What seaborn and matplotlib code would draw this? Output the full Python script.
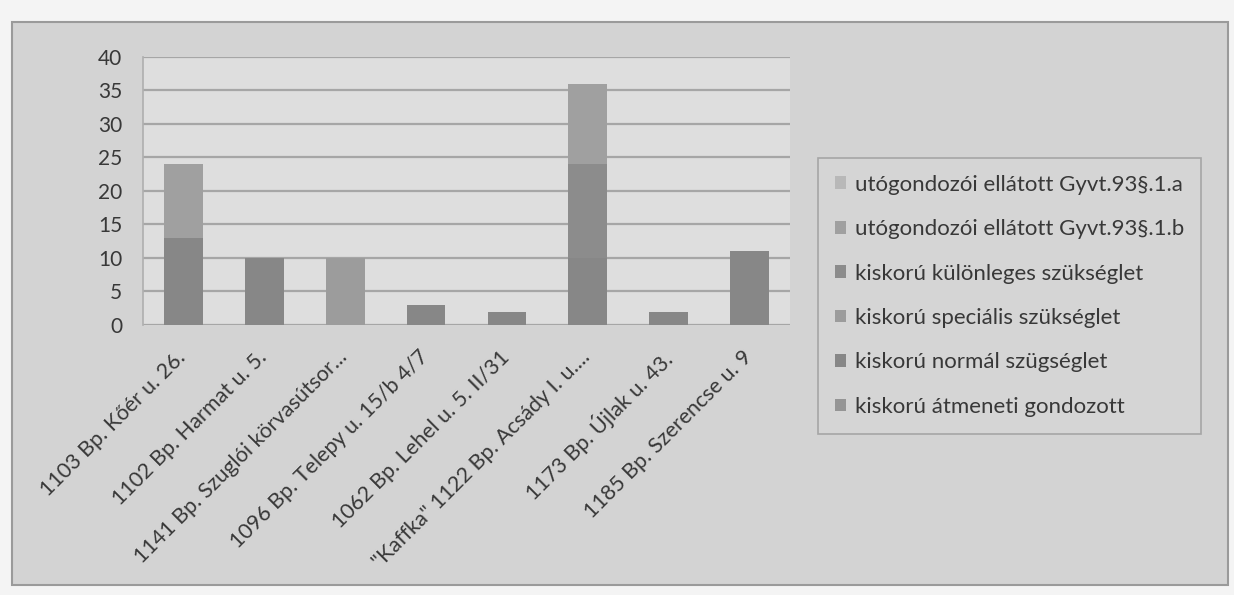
import numpy as np
import pandas as pd
import seaborn as sns
import matplotlib.pyplot as plt
import matplotlib.transforms as mtransforms
from matplotlib.patches import Rectangle

# addresses on the x axis
addresses = [
    "1103 Bp. Kőér u. 26.",
    "1102 Bp. Harmat u. 5.",
    "1141 Bp. Szuglói körvasútsor...",
    "1096 Bp. Telepy u. 15/b 4/7",
    "1062 Bp. Lehel u. 5. II/31",
    "\"Kaffka\" 1122 Bp. Acsády I. u....",
    "1173 Bp. Újlak u. 43.",
    "1185 Bp. Szerencse u. 9",
]

# series, bottom of the stack first
series_names = [
    "kiskorú átmeneti gondozott",
    "kiskorú normál szügséglet",
    "kiskorú speciális szükséglet",
    "kiskorú különleges szükséglet",
    "utógondozói ellátott Gyvt.93§.1.b",
    "utógondozói ellátott Gyvt.93§.1.a",
]
atmeneti = [0, 0, 0, 0, 0, 0, 0, 0]
normal = [13, 10, 0, 3, 2, 10, 2, 11]
specialis = [0, 0, 10, 0, 0, 0, 0, 0]
kulonleges = [0, 0, 0, 0, 0, 14, 0, 0]
uto_b = [11, 0, 0, 0, 0, 12, 0, 0]
uto_a = [0, 0, 0, 0, 0, 0, 0, 0]

series_values = [atmeneti, normal, specialis, kulonleges, uto_b, uto_a]
colors = ["#959595", "#878787", "#9c9c9c", "#8c8c8c", "#a0a0a0", "#b8b8b8"]

TEXT = "#383838"

sns.set_theme(style="white")
plt.rcParams["font.family"] = ["Lato", "DejaVu Sans"]

fig = plt.figure(figsize=(12.34, 5.95), dpi=100)
fig.patch.set_facecolor("#f4f4f4")
# chart frame, kept behind the axes
frame = Rectangle((12 / 1234, 1 - 585 / 595), 1216 / 1234, 563 / 595,
                  transform=fig.transFigure, facecolor="#d3d3d3",
                  edgecolor="#9a9a9a", linewidth=1.5, zorder=-10)
fig.add_artist(frame)

ax = fig.add_axes([143 / 1234, 1 - 325 / 595, 647 / 1234, 268 / 595])
ax.set_facecolor("#dedede")

# stacked bars: draw cumulative totals from top down
cum = np.cumsum(np.array(series_values), axis=0)
for i in range(len(series_names) - 1, -1, -1):
    df = pd.DataFrame({"addr": addresses, "val": cum[i]})
    sns.barplot(data=df, x="addr", y="val", color=colors[i], width=0.48,
                saturation=1, linewidth=0, edgecolor="none", ax=ax, zorder=3)

ax.set_ylim(0, 40)
ax.set_xlim(-0.5, len(addresses) - 0.5)
ax.set_yticks(range(0, 41, 5))
ax.yaxis.grid(True, color="#a6a6a6", linewidth=1.6, zorder=0)
ax.set_axisbelow(True)
for s in ["top", "right", "bottom"]:
    ax.spines[s].set_visible(False)
ax.spines["left"].set_color("#b0b0b0")
ax.set_xlabel("")
ax.set_ylabel("")
ax.tick_params(axis="y", labelsize=15, labelcolor=TEXT, pad=15, length=0)
ax.tick_params(axis="x", labelsize=15.5, labelcolor=TEXT, pad=10, length=0)
ax.set_xticks(range(len(addresses)))
ax.set_xticklabels(addresses, rotation=45, ha="right", rotation_mode="anchor")
shift = mtransforms.ScaledTranslation(-8 / 100, -8 / 100, fig.dpi_scale_trans)
for lbl in ax.get_xticklabels():
    lbl.set_transform(lbl.get_transform() + shift)

# legend
handles = [Rectangle((0, 0), 1, 1, facecolor=c, edgecolor="none") for c in colors]
leg = fig.legend(handles[::-1], series_names[::-1],
                 loc="upper left", bbox_to_anchor=(818 / 1234, 1 - 158 / 595),
                 borderaxespad=0, frameon=True, fontsize=16, labelspacing=1.1,
                 handlelength=0.5, handleheight=0.5, handletextpad=0.4,
                 borderpad=0.75, fancybox=False, labelcolor=TEXT)
leg.get_frame().set_facecolor("#d6d6d6")
leg.get_frame().set_edgecolor("#9a9a9a")
leg.get_frame().set_linewidth(1.2)

fig.savefig("out.png", dpi=100, facecolor=fig.get_facecolor())
